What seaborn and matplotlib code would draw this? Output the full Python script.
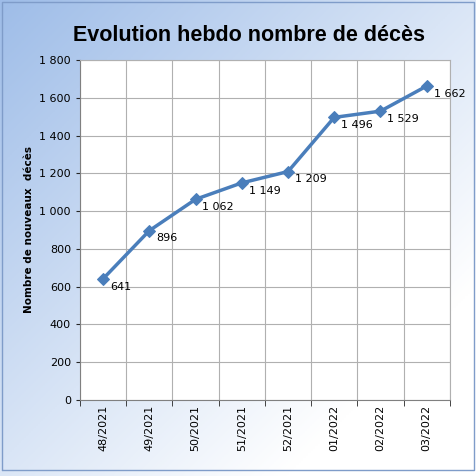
import numpy as np
import pandas as pd
import matplotlib.pyplot as plt
import seaborn as sns
from matplotlib.ticker import FixedLocator, FuncFormatter

weeks = ['48/2021', '49/2021', '50/2021', '51/2021', '52/2021', '01/2022', '02/2022', '03/2022']
deces = [641, 896, 1062, 1149, 1209, 1496, 1529, 1662]

def sp(v):
    return f"{int(v):,}".replace(",", " ")

sns.set_style("white")
plt.rcParams['font.family'] = ['DejaVu Sans']
plt.rcParams['text.color'] = 'black'

fig = plt.figure(figsize=(4.76, 4.76), dpi=100)

# fond dégradé type Excel
bg = fig.add_axes([0, 0, 1, 1], zorder=-10)
xx, yy = np.meshgrid(np.linspace(0, 1, 200), np.linspace(0, 1, 200))
t = np.clip((xx + yy) / 1.6, 0, 1)
c0 = np.array([0.62, 0.74, 0.91])
c1 = np.array([1.0, 1.0, 1.0])
img = c0[None, None, :] * (1 - t[..., None]) + c1[None, None, :] * t[..., None]
bg.imshow(img, extent=[0, 1, 0, 1], aspect='auto')
bg.plot([0.005, 0.995, 0.995, 0.005, 0.005], [0.012, 0.012, 0.995, 0.995, 0.012], color='#7f9cc9', lw=1)
bg.set_xlim(0, 1); bg.set_ylim(0, 1)
bg.axis('off')

ax = fig.add_axes([0.168, 0.16, 0.777, 0.714])
ax.set_facecolor('white')
df = pd.DataFrame({'x': np.arange(len(weeks)), 'y': deces})
sns.lineplot(data=df, x='x', y='y', ax=ax, color='#4a7ebb', lw=2.5,
             marker='D', markersize=6, markeredgecolor='#4a7ebb')

for i, v in enumerate(deces):
    ax.text(i + 0.15, v - 15, sp(v), fontsize=8, va='top', ha='left', color='black')

ax.set_xlim(-0.5, len(weeks) - 0.5)
ax.set_ylim(0, 1800)
ax.set_yticks(range(0, 1801, 200))
ax.yaxis.set_major_formatter(FuncFormatter(lambda v, p: sp(v)))
ax.set_xticks(range(len(weeks)))
ax.set_xticklabels(weeks, rotation=90, fontsize=8)
ax.xaxis.set_minor_locator(FixedLocator(np.arange(-0.5, len(weeks), 1)))
ax.tick_params(axis='y', labelsize=8, length=3, left=True, labelcolor='black')
ax.tick_params(axis='x', which='major', length=0, labelcolor='black')
ax.tick_params(axis='x', which='minor', length=4, bottom=True)
ax.grid(True, axis='y', color='#b0b0b0', lw=0.8)
ax.grid(True, axis='x', which='minor', color='#b0b0b0', lw=0.8)
for s in ax.spines.values():
    s.set_color('#b0b0b0')
ax.spines['left'].set_color('#808080')
ax.spines['bottom'].set_color('#808080')
ax.set_xlabel('')
ax.set_ylabel('Nombre de nouveaux  décès', fontsize=7.5, fontweight='bold', color='black')

fig.text(0.523, 0.926, 'Evolution hebdo nombre de décès', ha='center', va='center',
         fontsize=15.5, fontweight='bold', family=['Liberation Sans', 'DejaVu Sans'], color='black')

fig.savefig('out.png', dpi=100)
